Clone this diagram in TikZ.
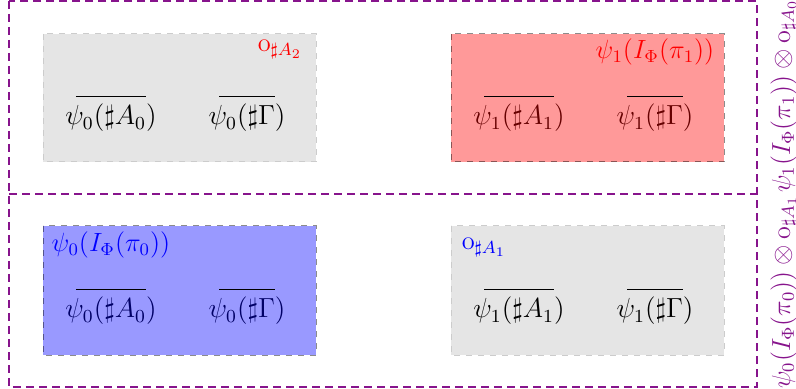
\documentclass[tikz,border=0pt]{standalone}
\usepackage{amsmath,amssymb,graphicx}
\definecolor{rowcol}{RGB}{135,20,140}
\newcommand{\tmbox}[1]{\scalebox{1.15}{$#1$}}
\newcommand{\lbbox}[1]{\scalebox{1.1}{$#1$}}
\newcommand{\sdbox}[1]{\scalebox{1.09}{$#1$}}
\begin{document}
\begin{tikzpicture}[x=0.5pt,y=-0.5pt,
  rowbox/.style={draw=rowcol, dash pattern=on 4pt off 2.5pt, line width=0.55pt},
  graybox/.style={fill=black!10, draw=black!20, dashed, line width=0.5pt},
  redbox/.style={fill=red, fill opacity=0.4, draw=black, draw opacity=0.45, dashed, line width=0.5pt},
  bluebox/.style={fill=blue, fill opacity=0.4, draw=black, draw opacity=0.45, dashed, line width=0.5pt},
  term/.style={inner sep=0pt, font=\fontsize{12}{14}\selectfont},
  lab/.style={inner sep=0pt, font=\fontsize{12}{14}\selectfont},
  side/.style={inner sep=0pt, rotate=90, anchor=base, text=rowcol, font=\fontsize{12}{14}\selectfont}
]
\useasboundingbox (0,0) rectangle (796,389);
% row rectangles
\draw[rowbox] (9,1) rectangle (757,387);
\coordinate (mw) at (9,194);
\coordinate (me) at (757,194);
\draw[rowbox] (mw) -- (me);
\coordinate (r1e) at (757,96);
\coordinate (r2e) at (757,292);
% top-left gray box
\draw[graybox] (43,34) rectangle (316,162);
\node[term] (a1) at (111,118) {\tmbox{\psi_0(\sharp A_0)}};
\node[term] (a2) at (247,118) {\tmbox{\psi_0(\sharp \Gamma)}};
\node[lab, text=red] (la) at (280,50) {\lbbox{\mathrm{o}_{\sharp A_2}}};
% top-right red box
\node[term] (b1) at (519,118) {\tmbox{\psi_1(\sharp A_1)}};
\node[term] (b2) at (655,118) {\tmbox{\psi_1(\sharp \Gamma)}};
\draw[redbox] (451,34) rectangle (724,162);
\node[lab, text=red] (lb) at (655,52) {\lbbox{\psi_1(I_\Phi(\pi_1))}};
% bottom-left blue box
\node[term] (c1) at (111,311) {\tmbox{\psi_0(\sharp A_0)}};
\node[term] (c2) at (247,311) {\tmbox{\psi_0(\sharp \Gamma)}};
\draw[bluebox] (43,226) rectangle (316,355);
\node[lab, text=blue] (lc) at (111,245) {\lbbox{\psi_0(I_\Phi(\pi_0))}};
% bottom-right gray box
\draw[graybox] (451,226) rectangle (724,355);
\node[term] (d1) at (519,311) {\tmbox{\psi_1(\sharp A_1)}};
\node[term] (d2) at (655,311) {\tmbox{\psi_1(\sharp \Gamma)}};
\node[lab, text=blue] (ld) at (484,248) {\lbbox{\mathrm{o}_{\sharp A_1}}};
% overlines
\foreach \n in {a1,a2,b1,b2,c1,c2,d1,d2}{
  \draw[line width=0.65pt] ([xshift=5.5pt,yshift=3.5pt]\n.north west) -- ([xshift=-5.5pt,yshift=3.5pt]\n.north east);
}
% side labels
\node[side] (s1) at ([xshift=16.5pt]r1e) {\sdbox{\psi_1(I_\Phi(\pi_1))\otimes \mathrm{o}_{\sharp A_0}}};
\node[side] (s2) at ([xshift=16.5pt]r2e) {\sdbox{\psi_0(I_\Phi(\pi_0))\otimes \mathrm{o}_{\sharp A_1}}};
\end{tikzpicture}
\end{document}
